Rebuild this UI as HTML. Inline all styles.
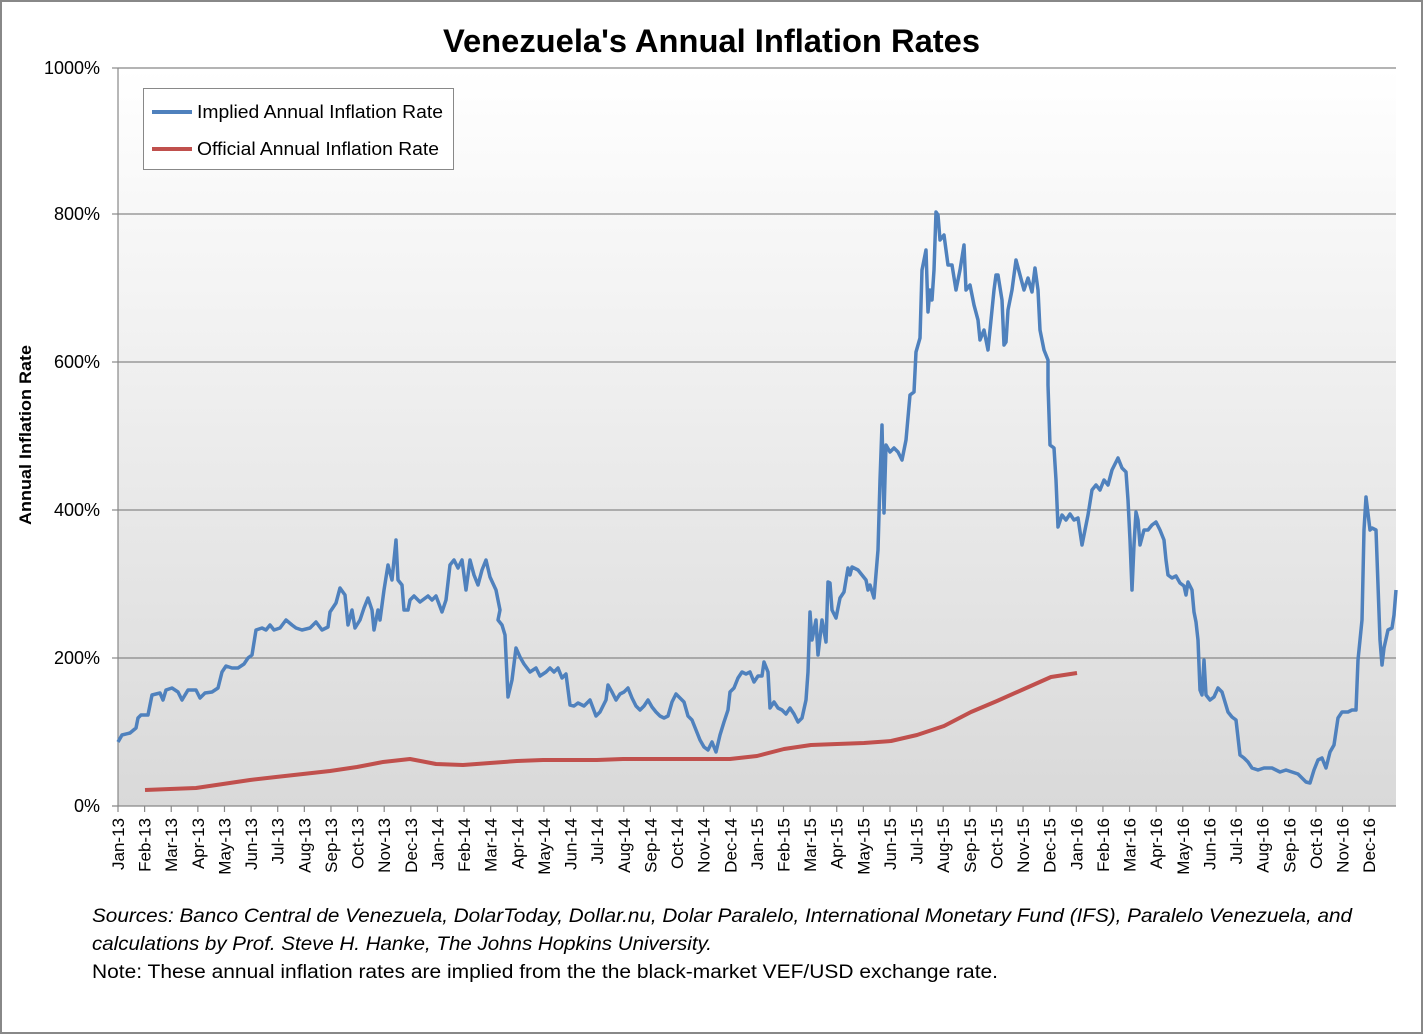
<!DOCTYPE html>
<html><head><meta charset="utf-8"><style>
body{margin:0;background:#fff;}
svg{display:block;font-family:"Liberation Sans",sans-serif;}
</style></head><body>
<svg width="1424" height="1035" viewBox="0 0 1424 1035" xmlns="http://www.w3.org/2000/svg">
<defs><linearGradient id="g" x1="0" y1="0" x2="0" y2="1"><stop offset="0" stop-color="#ffffff"/><stop offset="1" stop-color="#d9d9d9"/></linearGradient></defs>
<rect x="1" y="1" width="1421" height="1032" fill="#fff" stroke="#888" stroke-width="2"/>
<text x="443" y="52" font-size="32" font-weight="bold" textLength="537" lengthAdjust="spacingAndGlyphs">Venezuela's Annual Inflation Rates</text>
<rect x="118" y="68" width="1278" height="738" fill="url(#g)"/>
<g stroke="#888" stroke-width="1.2">
<line x1="118" y1="68" x2="1396" y2="68"/><line x1="118" y1="214" x2="1396" y2="214"/><line x1="118" y1="362" x2="1396" y2="362"/><line x1="118" y1="510" x2="1396" y2="510"/><line x1="118" y1="658" x2="1396" y2="658"/>
<line x1="118" y1="68" x2="118" y2="806"/><line x1="112" y1="806" x2="1396" y2="806"/>
<line x1="112" y1="68" x2="118" y2="68"/><line x1="112" y1="214" x2="118" y2="214"/><line x1="112" y1="362" x2="118" y2="362"/><line x1="112" y1="510" x2="118" y2="510"/><line x1="112" y1="658" x2="118" y2="658"/>
</g>
<g font-size="18" text-anchor="end" fill="#000">
<text x="100" y="74">1000%</text><text x="100" y="220">800%</text><text x="100" y="368">600%</text><text x="100" y="516">400%</text><text x="100" y="664">200%</text><text x="100" y="812">0%</text>
</g>
<text transform="translate(31,525) rotate(-90)" font-size="17" font-weight="bold" textLength="180" lengthAdjust="spacingAndGlyphs">Annual Inflation Rate</text>
<g id="xt" stroke="#888" stroke-width="1.2"></g>
<g id="xl" font-size="17"></g>
<polyline fill="none" stroke="#c0504d" stroke-width="4" stroke-linejoin="round" points="145,790 170,789 196,788 223,784 250,780 276,777 303,774 330,771 357,767 383,762 410,759 436,764 463,765 490,763 517,761 543,760 570,760 597,760 623,759 650,759 677,759 704,759 730,759 757,756 784,749 811,745 837,744 864,743 891,741 917,735 944,726 971,712 997,701 1024,689 1051,677 1077,673"/>
<polyline fill="none" stroke="#4f81bd" stroke-width="3.5" stroke-linejoin="round" points="118,742 122,735 130,733 136,728 138,718 141,715 148,715 152,695 160,693 163,700 166,690 172,688 178,692 182,700 188,690 196,690 200,698 205,693 212,692 218,688 222,672 226,666 232,668 238,668 244,664 248,658 252,655 256,630 262,628 266,630 270,625 274,630 280,628 286,620 292,625 296,628 302,630 310,628 316,622 322,630 328,627 330,612 336,603 340,588 345,595 348,625 352,610 355,628 360,620 364,608 368,598 372,610 374,630 378,610 380,620 384,590 388,565 392,580 396,540 398,580 402,585 404,610 408,610 410,600 414,596 420,602 428,596 432,600 436,596 442,612 446,600 450,565 454,560 458,568 462,560 466,590 470,560 474,575 478,585 482,570 486,560 490,577 496,590 500,610 498,620 502,625 505,635 508,697 512,680 516,648 520,657 524,664 530,672 536,668 540,676 546,672 550,668 554,672 558,668 562,678 566,674 570,705 574,706 578,703 584,706 590,700 596,716 600,712 606,700 608,685 612,692 616,700 620,694 624,692 628,688 632,698 636,706 640,710 644,706 648,700 652,707 656,712 660,716 664,718 668,716 672,702 676,694 680,698 684,702 688,716 692,720 696,730 700,740 704,747 708,750 712,742 716,752 720,735 724,722 728,710 730,692 734,688 738,678 742,672 746,674 750,672 754,682 758,676 762,676 764,662 768,672 770,708 774,702 778,708 782,710 786,714 790,708 794,714 798,722 802,718 806,700 808,672 810,612 812,640 816,620 818,655 822,620 826,642 828,582 830,583 832,610 836,618 840,598 844,592 848,568 850,575 852,567 858,570 862,575 866,580 868,590 870,585 874,598 878,550 880,480 882,425 884,513 886,445 890,452 894,448 898,452 902,460 906,440 910,395 914,392 916,352 920,338 922,270 926,250 928,312 930,290 932,300 934,270 936,212 938,215 940,240 944,235 948,265 952,265 956,290 960,270 964,245 966,290 970,285 974,305 978,320 980,340 984,330 988,350 990,330 994,290 996,275 998,275 1002,300 1004,345 1006,342 1008,310 1012,290 1016,260 1020,275 1024,290 1028,278 1032,292 1035,268 1038,290 1040,330 1044,350 1048,360 1048,385 1050,445 1054,448 1056,480 1058,527 1062,515 1066,520 1070,514 1074,520 1078,518 1082,545 1084,535 1088,515 1092,490 1096,485 1100,490 1104,480 1108,485 1112,470 1116,462 1118,458 1122,468 1126,472 1128,500 1130,540 1132,590 1134,545 1136,512 1138,520 1140,545 1144,530 1148,530 1152,525 1156,522 1160,530 1164,540 1166,560 1168,575 1172,578 1176,576 1180,583 1184,586 1186,595 1188,582 1192,590 1194,612 1196,622 1198,640 1200,690 1202,695 1204,660 1206,695 1210,700 1214,697 1218,688 1222,692 1228,712 1232,717 1236,720 1240,755 1244,758 1248,762 1252,768 1258,770 1264,768 1272,768 1280,772 1286,770 1292,772 1298,774 1302,778 1306,782 1310,783 1314,770 1318,760 1322,758 1326,768 1330,752 1334,745 1338,718 1342,712 1348,712 1352,710 1356,710 1358,660 1362,620 1364,530 1366,497 1370,530 1372,528 1376,530 1380,640 1382,665 1384,648 1388,630 1392,628 1394,615 1396,590"/>
<rect x="143.5" y="88.5" width="310" height="81" fill="#fff" stroke="#888"/>
<line x1="152" y1="112" x2="192" y2="112" stroke="#4f81bd" stroke-width="4"/>
<line x1="152" y1="149" x2="192" y2="149" stroke="#c0504d" stroke-width="4"/>
<text x="197" y="118" font-size="18" textLength="246" lengthAdjust="spacingAndGlyphs">Implied Annual Inflation Rate</text>
<text x="197" y="155" font-size="18" textLength="242" lengthAdjust="spacingAndGlyphs">Official Annual Inflation Rate</text>
<text x="92" y="922" font-size="19" font-style="italic" textLength="1260" lengthAdjust="spacingAndGlyphs">Sources: Banco Central de Venezuela, DolarToday, Dollar.nu, Dolar Paralelo, International Monetary Fund (IFS), Paralelo Venezuela, and</text>
<text x="92" y="950" font-size="19" font-style="italic" textLength="620" lengthAdjust="spacingAndGlyphs">calculations by Prof. Steve H. Hanke, The Johns Hopkins University.</text>
<text x="92" y="978" font-size="19" textLength="906" lengthAdjust="spacingAndGlyphs">Note: These annual inflation rates are implied from the the black-market VEF/USD exchange rate.</text>
<script>
var m=["Jan","Feb","Mar","Apr","May","Jun","Jul","Aug","Sep","Oct","Nov","Dec"],ns="http://www.w3.org/2000/svg";
var t=document.getElementById("xt"),l=document.getElementById("xl");
for(var i=0;i<48;i++){var x=118+i*26.62;
var ln=document.createElementNS(ns,"line");ln.setAttribute("x1",x);ln.setAttribute("x2",x);ln.setAttribute("y1",806);ln.setAttribute("y2",812);t.appendChild(ln);
var tx=document.createElementNS(ns,"text");tx.setAttribute("transform","translate("+(x+6)+",818) rotate(-90)");tx.setAttribute("text-anchor","end");
tx.textContent=m[i%12]+"-"+(13+Math.floor(i/12));l.appendChild(tx);}
</script>
</svg>
</body></html>
